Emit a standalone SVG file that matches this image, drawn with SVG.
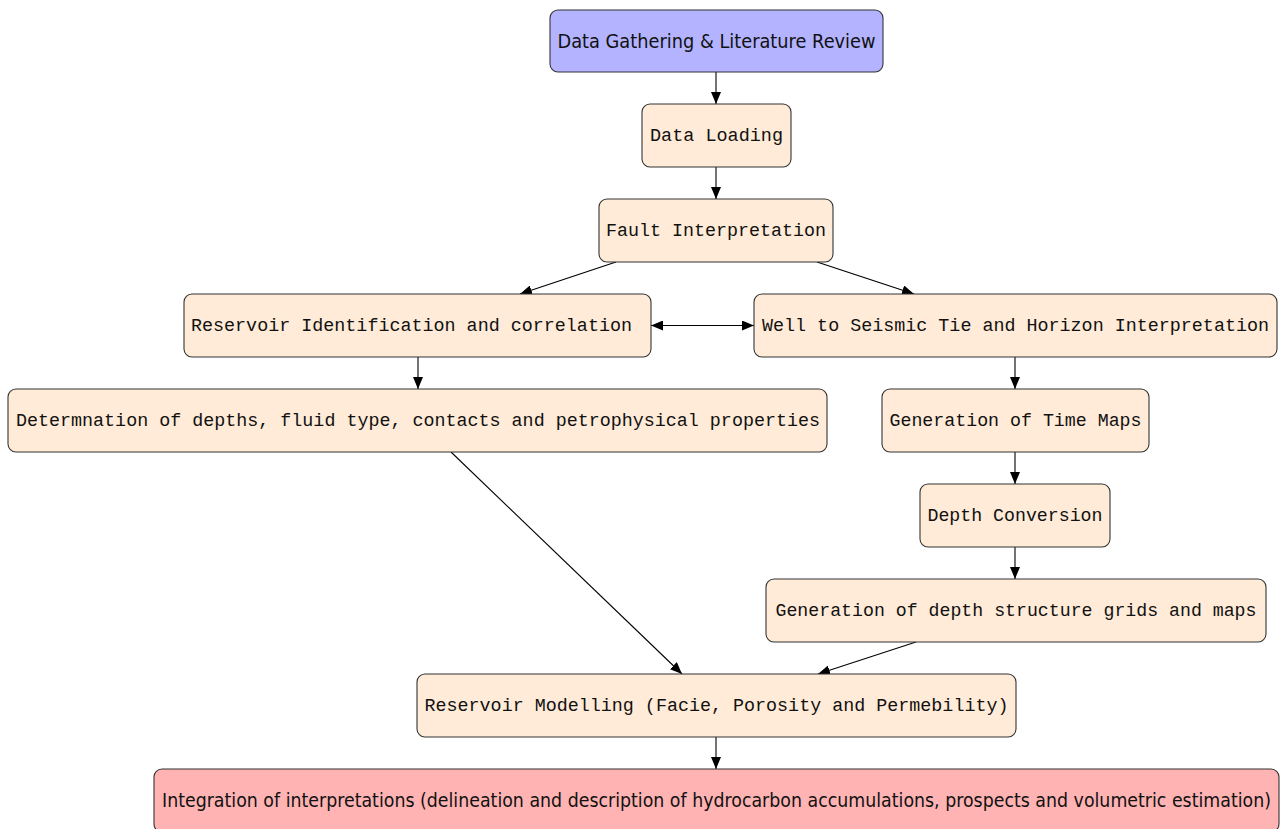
<svg xmlns="http://www.w3.org/2000/svg" width="1282" height="829" viewBox="0 0 1282 829">
<defs>
<marker id="ah" viewBox="0 0 12 10" refX="12" refY="5" markerWidth="12" markerHeight="10" markerUnits="userSpaceOnUse" orient="auto-start-reverse">
<path d="M0,0 L12,5 L0,10 Z" fill="#000"/>
</marker>
<style>
.n rect{stroke:#333;stroke-width:1.1;}
.p{fill:#ffebd7;}
.b{fill:#b3b3ff;}
.r{fill:#ffb3b3;}
.m{font-family:"Liberation Mono","DejaVu Sans Mono",monospace;font-size:18.3px;fill:#111;text-anchor:middle;dominant-baseline:central;}
.s{font-family:"DejaVu Sans","Liberation Sans",sans-serif;font-size:19px;fill:#111;text-anchor:middle;dominant-baseline:central;}
.e{stroke:#000;stroke-width:1.1;fill:none;marker-end:url(#ah);}
</style>
</defs>
<rect width="1282" height="829" fill="#fff"/>
<g id="connectors">
<line class="e" x1="716" y1="72" x2="716" y2="104"/>
<line class="e" x1="716" y1="167" x2="716" y2="199"/>
<line class="e" x1="616" y1="262" x2="520" y2="294"/>
<line class="e" x1="817" y1="262" x2="914" y2="294"/>
<line class="e" x1="651" y1="325.5" x2="754" y2="325.5" style="marker-start:url(#ah)"/>
<line class="e" x1="418" y1="357" x2="418" y2="389"/>
<line class="e" x1="1015" y1="357" x2="1015" y2="389"/>
<line class="e" x1="1015" y1="452" x2="1015" y2="484"/>
<line class="e" x1="1015" y1="547" x2="1015" y2="579"/>
<line class="e" x1="451" y1="452" x2="682" y2="674"/>
<line class="e" x1="916" y1="642" x2="818" y2="674"/>
<line class="e" x1="716" y1="737" x2="716" y2="769"/>
</g>
<g id="n1" class="n"><rect class="b" x="550" y="10" width="333" height="62" rx="8"/><text class="s" x="716.5" y="41" textLength="318" lengthAdjust="spacingAndGlyphs">Data Gathering &amp; Literature Review</text></g>
<g id="n2" class="n"><rect class="p" x="642" y="104" width="149" height="63" rx="8"/><text class="m" x="716.5" y="135.5" textLength="133" lengthAdjust="spacingAndGlyphs">Data Loading</text></g>
<g id="n3" class="n"><rect class="p" x="599" y="199" width="234" height="63" rx="8"/><text class="m" x="716" y="230.5" textLength="220" lengthAdjust="spacingAndGlyphs">Fault Interpretation</text></g>
<g id="n4" class="n"><rect class="p" x="184" y="294" width="467" height="63" rx="8"/><text class="m" x="411.5" y="325.5" textLength="441" lengthAdjust="spacingAndGlyphs">Reservoir Identification and correlation</text></g>
<g id="n5" class="n"><rect class="p" x="754" y="294" width="523" height="63" rx="8"/><text class="m" x="1015.5" y="325.5" textLength="507" lengthAdjust="spacingAndGlyphs">Well to Seismic Tie and Horizon Interpretation</text></g>
<g id="n6" class="n"><rect class="p" x="8" y="389" width="819" height="63" rx="8"/><text class="m" x="418" y="420.5" textLength="804" lengthAdjust="spacingAndGlyphs">Determnation of depths, fluid type, contacts and petrophysical properties</text></g>
<g id="n7" class="n"><rect class="p" x="882" y="389" width="267" height="63" rx="8"/><text class="m" x="1015.5" y="420.5" textLength="252" lengthAdjust="spacingAndGlyphs">Generation of Time Maps</text></g>
<g id="n8" class="n"><rect class="p" x="920" y="484" width="190" height="63" rx="8"/><text class="m" x="1015" y="515.5" textLength="175" lengthAdjust="spacingAndGlyphs">Depth Conversion</text></g>
<g id="n9" class="n"><rect class="p" x="766" y="579" width="500" height="63" rx="8"/><text class="m" x="1016" y="610.5" textLength="481" lengthAdjust="spacingAndGlyphs">Generation of depth structure grids and maps</text></g>
<g id="n10" class="n"><rect class="p" x="417" y="674" width="599" height="63" rx="8"/><text class="m" x="716.5" y="705.5" textLength="584" lengthAdjust="spacingAndGlyphs">Reservoir Modelling (Facie, Porosity and Permebility)</text></g>
<g id="n11" class="n"><rect class="r" x="154" y="769" width="1125" height="63" rx="8"/><text class="s" x="716.5" y="800" textLength="1109" lengthAdjust="spacingAndGlyphs">Integration of interpretations (delineation and description of hydrocarbon accumulations, prospects and volumetric estimation)</text></g>
</svg>
